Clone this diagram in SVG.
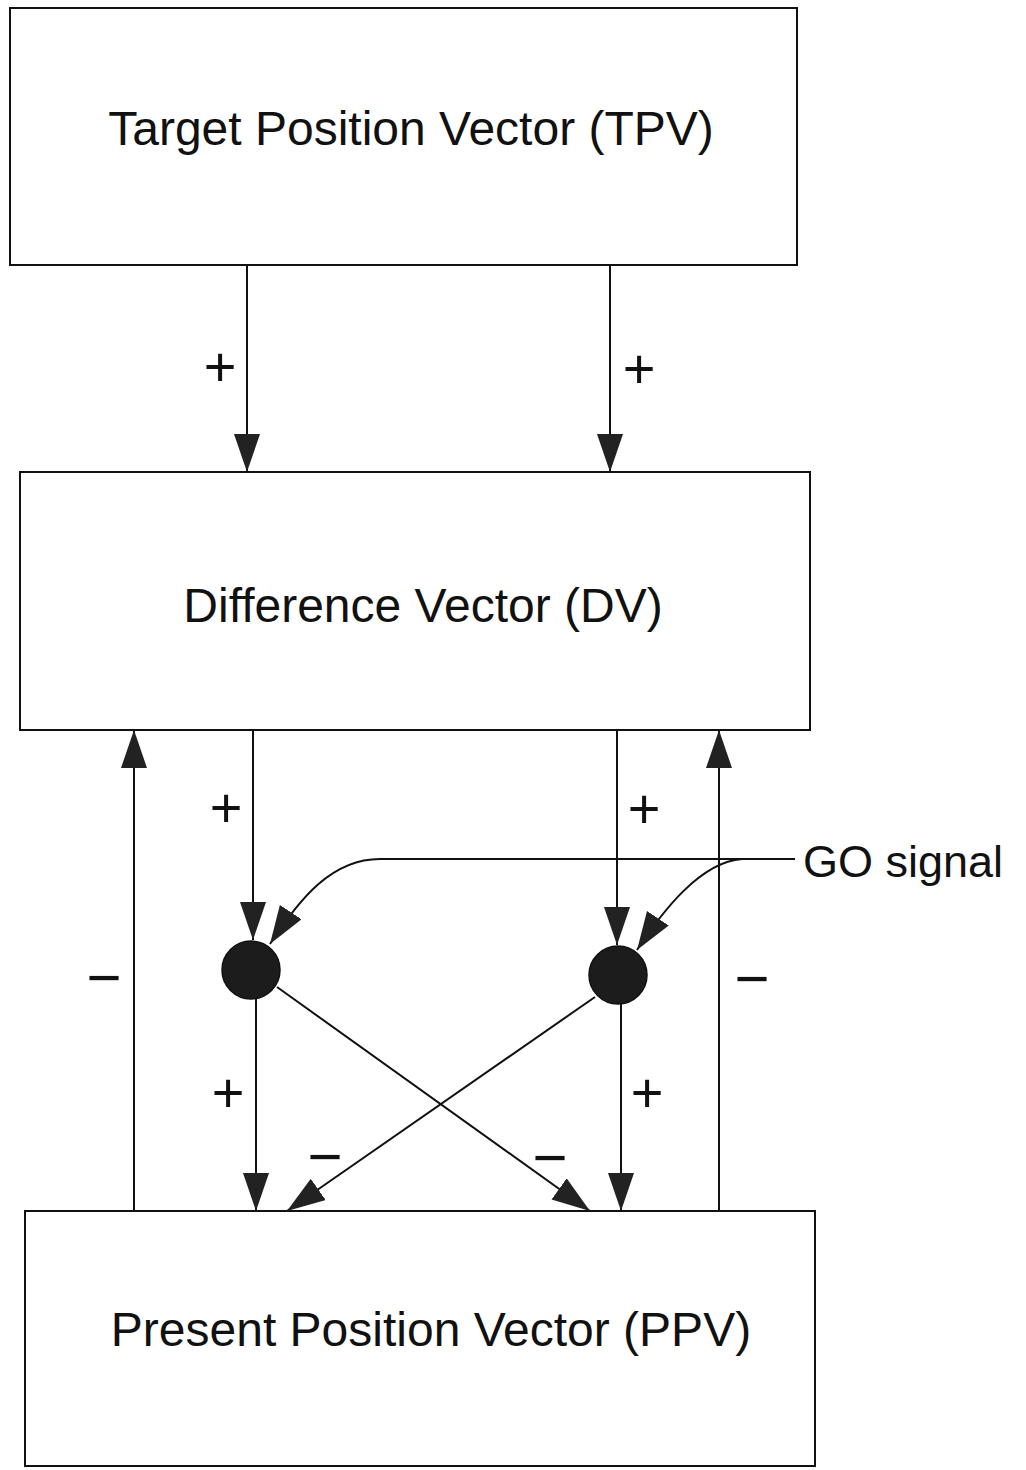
<svg xmlns="http://www.w3.org/2000/svg" width="1026" height="1470" viewBox="0 0 1026 1470">
<style>
.box{fill:#fff;stroke:#111;stroke-width:2}
.lbl{font-family:"Liberation Sans",Arial,sans-serif;font-size:48px;fill:#111;text-anchor:middle}
.plus{font-family:"Liberation Sans",Arial,sans-serif;font-size:56px;fill:#111;text-anchor:middle}
.minus{font-family:"Liberation Sans",Arial,sans-serif;font-size:60px;fill:#111;text-anchor:middle}
.ln{fill:none;stroke:#111;stroke-width:2}
.dot{fill:#1c1c1c;stroke:#111;stroke-width:1.5}
</style>
<defs>
<marker id="ah" markerUnits="userSpaceOnUse" markerWidth="40" markerHeight="28" refX="38" refY="13" orient="auto">
<path d="M0,0 L38,13 L0,26 Z" fill="#222"/>
</marker>
</defs>
<rect width="1026" height="1470" fill="#fff"/>
<g id="tpv">
<rect class="box" x="10" y="8" width="787" height="257"/>
<text class="lbl" x="411" y="145">Target Position Vector (TPV)</text>
</g>
<g id="dv">
<rect class="box" x="20" y="472" width="790" height="258"/>
<text class="lbl" x="423" y="622">Difference Vector (DV)</text>
</g>
<g id="ppv">
<rect class="box" x="25" y="1211" width="790" height="255"/>
<text class="lbl" x="431" y="1346">Present Position Vector (PPV)</text>
</g>
<g id="gate-left">
<circle class="dot" cx="251" cy="970" r="29"/>
</g>
<g id="gate-right">
<circle class="dot" cx="618" cy="975" r="29"/>
</g>
<g id="go-signal">
<text font-family="Liberation Sans, Arial, sans-serif" font-size="45" fill="#111" x="803" y="877">GO signal</text>
</g>
<g id="connectors">
<line class="ln" x1="247" y1="265" x2="247" y2="472" marker-end="url(#ah)"/>
<line class="ln" x1="610" y1="265" x2="610" y2="472" marker-end="url(#ah)"/>
<line class="ln" x1="253" y1="730" x2="253" y2="940" marker-end="url(#ah)"/>
<line class="ln" x1="617" y1="730" x2="617" y2="945" marker-end="url(#ah)"/>
<line class="ln" x1="256" y1="999" x2="256" y2="1211" marker-end="url(#ah)"/>
<line class="ln" x1="621" y1="1004" x2="621" y2="1211" marker-end="url(#ah)"/>
<line class="ln" x1="134" y1="1211" x2="134" y2="730" marker-end="url(#ah)"/>
<line class="ln" x1="719" y1="1211" x2="719" y2="730" marker-end="url(#ah)"/>
<line class="ln" x1="277" y1="987" x2="590" y2="1211" marker-end="url(#ah)"/>
<line class="ln" x1="595" y1="997" x2="287" y2="1211" marker-end="url(#ah)"/>
<path class="ln" d="M795,859 L380,859 C332,859 300,898 270,944" marker-end="url(#ah)"/>
<path class="ln" d="M742,859 C700,862 662,912 637,950" marker-end="url(#ah)"/>
<text class="plus" x="220" y="386">+</text>
<text class="plus" x="639" y="388">+</text>
<text class="plus" x="226" y="827">+</text>
<text class="plus" x="644" y="828">+</text>
<text class="plus" x="228" y="1112">+</text>
<text class="plus" x="647" y="1112">+</text>
<text class="minus" x="104" y="998">−</text>
<text class="minus" x="752" y="999">−</text>
<text class="minus" x="325" y="1177">−</text>
<text class="minus" x="550" y="1178">−</text>
</g>
</svg>
